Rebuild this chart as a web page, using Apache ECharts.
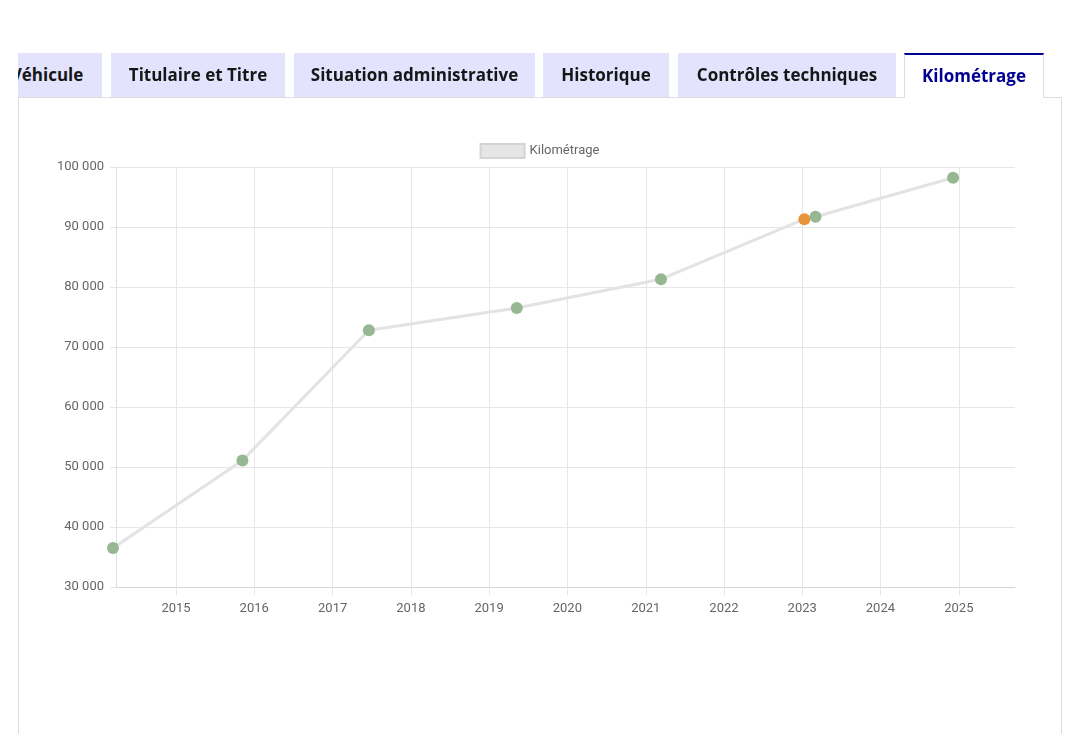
<!DOCTYPE html>
<html>
<head>
<meta charset="utf-8">
<script src="https://cdn.jsdelivr.net/npm/echarts@6/dist/echarts.min.js"></script>
<style>
  html, body { margin: 0; padding: 0; width: 1079px; height: 734px; background: #fff; overflow: hidden; }
  #card { position: absolute; left: 18px; top: 97px; width: 1044px; height: 700px; border: 1px solid #dddddd; box-sizing: border-box; background: #fff; }
  #chart { position: absolute; left: 0; top: 0; width: 1079px; height: 734px; }
  #tabs { position: absolute; left: 18px; top: 53px; width: 1043px; height: 45px; overflow: hidden; }
  .tab { position: absolute; top: 0; height: 44px; line-height: 44px; text-align: center; background: #e3e3fd; color: #161616;
         font-family: "Open Sans", sans-serif; font-weight: 700; font-size: 17px; white-space: nowrap; box-sizing: border-box; }
  .tab.active { background: #fff; color: #000091; border-top: 2px solid #000091; border-left: 1px solid #dddddd; border-right: 1px solid #dddddd; line-height: 42px; height: 45px; }
</style>
</head>
<body>
<div id="card"></div>
<div id="chart"></div>
<div id="tabs"></div>
<script>
// ---- data ----
const tabLabels = ['Véhicule', 'Titulaire et Titre', 'Situation administrative', 'Historique', 'Contrôles techniques', 'Kilométrage'];
const activeTab = 'Kilométrage';
const seriesName = 'Kilométrage';
const readingDates = ['2014-03-13', '2015-11-07', '2017-06-19', '2019-05-10', '2021-03-13', '2023-01-11', '2023-03-04', '2024-12-05'];
const readingKm = [36500, 51100, 72800, 76500, 81300, 91300, 91700, 98200];
const readingFlag = [false, false, false, false, false, true, false, false];
const yearTicks = [2015, 2016, 2017, 2018, 2019, 2020, 2021, 2022, 2023, 2024, 2025];
const xRange = ['2014-03-27', '2025-09-20'];
const yRange = [30000, 100000];
const yStep = 10000;

// ---- tabs (page chrome) ----
const tabGeom = [[-26, 110], [93, 174], [276, 241], [525, 126], [660, 218], [886, 140]];
const tabsEl = document.getElementById('tabs');
tabLabels.forEach((t, i) => {
  const d = document.createElement('div');
  d.className = 'tab' + (t === activeTab ? ' active' : '');
  d.style.left = tabGeom[i][0] + 'px';
  d.style.width = tabGeom[i][1] + 'px';
  d.textContent = t;
  tabsEl.appendChild(d);
});

// ---- chart ----
function utc(s) { const p = s.split('-').map(Number); return Date.UTC(p[0], p[1] - 1, p[2]); }
const GREEN = '#95b792', ORANGE = '#e8943a';
const points = readingDates.map((d, i) => ({
  value: [utc(d), readingKm[i]],
  itemStyle: { color: readingFlag[i] ? ORANGE : GREEN }
}));
const tickVals = yearTicks.map(y => Date.UTC(y, 0, 1));
const fmtKm = v => String(v).replace(/\B(?=(\d{3})+(?!\d))/g, ' ');

const chart = echarts.init(document.getElementById('chart'), null, { renderer: 'canvas' });
chart.setOption({
  animation: false,
  backgroundColor: 'transparent',
  textStyle: { fontFamily: 'Roboto' },
  legend: {
    top: 138, left: 'center',
    itemWidth: 44, itemHeight: 14, itemGap: 10,
    textStyle: { color: '#666', fontSize: 13, fontFamily: 'Roboto' },
    data: [{ name: seriesName, icon: 'rect', itemStyle: { color: '#e6e6e6', borderColor: '#d4d4d4', borderWidth: 2 } }]
  },
  grid: { left: 116, right: 64, top: 167, bottom: 147, containLabel: false },
  xAxis: {
    type: 'value',
    min: utc(xRange[0]), max: utc(xRange[1]),
    axisLine: { show: true, lineStyle: { color: '#d6d6d6', width: 1 } },
    axisTick: { show: true, length: 8, lineStyle: { color: '#e6e6e6' }, customValues: tickVals },
    axisLabel: { color: '#666', fontSize: 13, fontFamily: 'Roboto', margin: 15, customValues: tickVals,
                 formatter: v => String(new Date(v).getUTCFullYear()) },
    splitLine: { show: true, lineStyle: { color: '#e6e6e6', width: 1 } }
  },
  yAxis: {
    type: 'value',
    min: yRange[0], max: yRange[1], interval: yStep,
    axisLine: { show: true, lineStyle: { color: '#e0e0e0', width: 1 } },
    axisTick: { show: true, length: 6, lineStyle: { color: '#e6e6e6' } },
    axisLabel: { color: '#666', fontSize: 13, fontFamily: 'Roboto', margin: 12, formatter: fmtKm },
    splitLine: { show: true, lineStyle: { color: '#e6e6e6', width: 1 } }
  },
  series: [{
    name: seriesName,
    type: 'line',
    data: points,
    clip: false,
    symbol: 'circle',
    symbolSize: 12,
    lineStyle: { color: '#e3e3e3', width: 3 },
    itemStyle: { color: '#e6e6e6' },
    emphasis: { disabled: true }
  }]
});
</script>
</body>
</html>
